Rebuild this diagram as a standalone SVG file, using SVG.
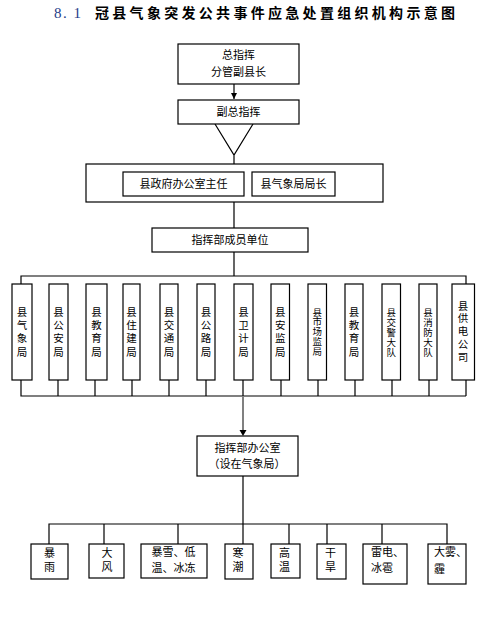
<svg xmlns="http://www.w3.org/2000/svg" width="499" height="620" viewBox="0 0 499 620">
<style>
.b{fill:#fff;stroke:#000;stroke-width:1.2}
.l{fill:none;stroke:#000;stroke-width:1.2}
.t{font-family:"Noto Sans CJK SC","Liberation Sans",sans-serif;font-size:11px;fill:#000;text-anchor:middle}
.v{font-family:"Noto Sans CJK SC","Liberation Sans",sans-serif;font-size:10.5px;fill:#000;writing-mode:vertical-rl;text-anchor:start;letter-spacing:2.8px}
.v2{font-family:"Noto Sans CJK SC","Liberation Sans",sans-serif;font-size:11px;fill:#000;writing-mode:vertical-rl;text-anchor:start;letter-spacing:3px}
.s{font-size:9.5px;letter-spacing:0.3px}
.a{text-anchor:start}
</style>
<defs>
<marker id="ah" viewBox="0 0 6 6" refX="6" refY="3" markerWidth="6" markerHeight="6" markerUnits="userSpaceOnUse" orient="auto"><path d="M0,0L6,3L0,6z" fill="#000"/></marker>
</defs>
<g id="title">
<text x="54" y="18" font-family="Liberation Serif,serif" font-size="15" fill="#1f3c88" letter-spacing="1.5">8. 1</text>
<text x="95" y="18" font-family="Noto Sans CJK SC,sans-serif" font-size="14" font-weight="bold" fill="#000" letter-spacing="3.3">冠县气象突发公共事件应急处置组织机构示意图</text>
</g>
<g id="connectors">
<path class="l" d="M234,84V99" marker-end="url(#ah)"/>
<path class="l" d="M215,124L234,155L253,124M234,155V164"/>
<path class="l" d="M234,202V228M234,252V276"/>
<path class="l" d="M21,284V276H466V284"/>
<path class="l" d="M21,380V396H466M58,380V396M95,380V396M132,380V396M169,380V396M206,380V396M243,380V396M281,380V396M318,380V396M355,380V396M392,380V396M429,380V396M466,380V396"/>
<path d="M243,396V431" stroke="#808080" stroke-width="2" fill="none"/>
<path d="M239.5,430L243,436L246.5,430z" fill="#000"/>
<path class="l" d="M243,476V544M49,544V524H447V544M104,524V544M178,524V544M289,524V544M327,524V544M382,524V544"/>
</g>
<g id="n-chief"><rect class="b" x="178" y="44" width="121" height="40"/><text class="t" x="238.5" y="59">总指挥</text><text class="t" x="238.5" y="75.5">分管副县长</text></g>
<g id="n-deputy"><rect class="b" x="178" y="100" width="121" height="24"/><text class="t" x="238.5" y="116">副总指挥</text></g>
<g id="n-deputies"><rect class="b" x="86" y="164" width="297" height="38"/>
<rect class="b" x="123" y="172" width="121" height="24"/><text class="t" x="183.5" y="188">县政府办公室主任</text>
<rect class="b" x="252" y="172" width="83" height="24"/><text class="t" x="293.5" y="188">县气象局局长</text></g>
<g id="n-members"><rect class="b" x="152" y="228" width="156" height="24"/><text class="t" x="230" y="244">指挥部成员单位</text></g>
<g id="c1"><rect class="b" x="12" y="284" width="20" height="96"/><text class="v" x="22" y="306.5">县气象局</text></g>
<g id="c2"><rect class="b" x="49" y="284" width="19" height="96"/><text class="v" x="58.5" y="306.5">县公安局</text></g>
<g id="c3"><rect class="b" x="86" y="284" width="21" height="96"/><text class="v" x="96.5" y="306.5">县教育局</text></g>
<g id="c4"><rect class="b" x="123" y="284" width="17" height="96"/><text class="v" x="131.5" y="306.5">县住建局</text></g>
<g id="c5"><rect class="b" x="160" y="284" width="18" height="96"/><text class="v" x="169" y="306.5">县交通局</text></g>
<g id="c6"><rect class="b" x="197" y="284" width="18" height="96"/><text class="v" x="206" y="306.5">县公路局</text></g>
<g id="c7"><rect class="b" x="234" y="284" width="19" height="96"/><text class="v" x="243.5" y="306.5">县卫计局</text></g>
<g id="c8"><rect class="b" x="271" y="284" width="18.5" height="96"/><text class="v" x="280.3" y="306.5">县安监局</text></g>
<g id="c9"><rect class="b" x="308" y="284" width="18.5" height="96"/><text class="v s" x="317.3" y="307.3">县市场监局</text></g>
<g id="c10"><rect class="b" x="345" y="284" width="18" height="96"/><text class="v" x="354" y="306.5">县教育局</text></g>
<g id="c11"><rect class="b" x="382" y="284" width="18.5" height="96"/><text class="v s" x="391.3" y="308">县交警大队</text></g>
<g id="c12"><rect class="b" x="419" y="284" width="18" height="96"/><text class="v s" x="428" y="308">县消防大队</text></g>
<g id="c13"><rect class="b" x="452" y="284" width="22.5" height="96"/><text class="v" x="463" y="300.5" style="letter-spacing:2.2px">县供电公司</text></g>
<g id="n-office"><rect class="b" x="197" y="436" width="101" height="40"/><text class="t" x="247.5" y="452">指挥部办公室</text><text class="t" x="247" y="468">（设在气象局）</text></g>
<g id="d1"><rect class="b" x="31" y="544" width="37" height="35"/><text class="v2" x="49.5" y="547.5">暴雨</text></g>
<g id="d2"><rect class="b" x="89" y="544" width="35" height="34"/><text class="v2" x="107" y="547.5">大风</text></g>
<g id="d3"><rect class="b" x="141" y="544" width="66" height="34"/><text class="t" x="173.5" y="556">暴雪、低</text><text class="t" x="173.5" y="572">温、冰冻</text></g>
<g id="d4"><rect class="b" x="225" y="544" width="28" height="35"/><text class="v2" x="238" y="547.5">寒潮</text></g>
<g id="d5"><rect class="b" x="271" y="544" width="29" height="34"/><text class="v2" x="284.5" y="547.5">高温</text></g>
<g id="d6"><rect class="b" x="317" y="544" width="29" height="35"/><text class="v2" x="330.5" y="547.5">干旱</text></g>
<g id="d7"><rect class="b" x="363" y="544" width="44" height="40"/><text class="t a" x="371" y="556">雷电、</text><text class="t a" x="371" y="572">冰雹</text></g>
<g id="d8"><rect class="b" x="428" y="544" width="38" height="40"/><text class="t a" x="434" y="556">大雾、</text><text class="t a" x="434" y="573">霾</text></g>
</svg>
